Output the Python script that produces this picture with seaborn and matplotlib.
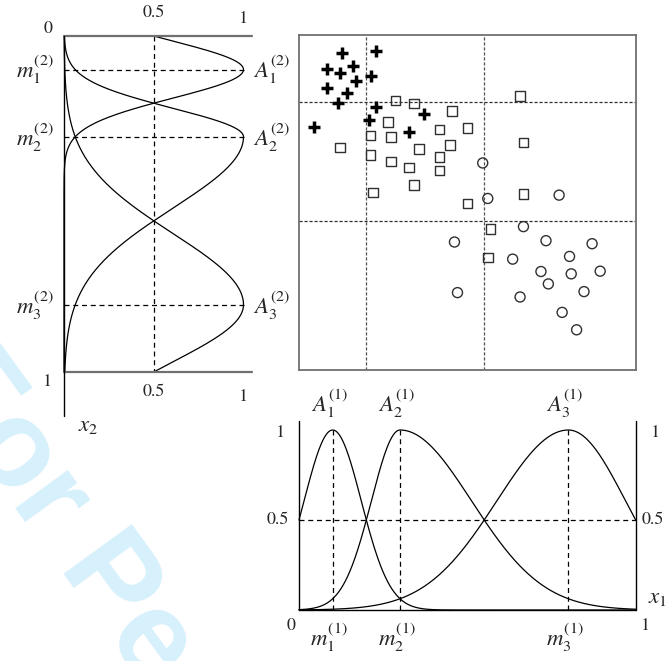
import numpy as np
import matplotlib
matplotlib.use("Agg")
import matplotlib.pyplot as plt
import seaborn as sns

sns.set_theme(style="white")
plt.rcParams["font.family"] = ["STIXGeneral", "DejaVu Serif"]
plt.rcParams["mathtext.fontset"] = "stix"

# ---- fuzzy partition of each attribute (centres and 0.5-crossing points) ----
x1_centers = [0.1, 0.3, 0.8]
x1_left_half = [0.0, 0.2, 0.55]    # where each set rises through 0.5
x1_right_half = [0.2, 0.55, 1.0]   # where each set falls through 0.5
x2_centers = [0.1, 0.3, 0.8]
x2_left_half = [0.0, 0.2, 0.55]
x2_right_half = [0.2, 0.55, 1.0]
x1_cuts = [0.2, 0.55]
x2_cuts = [0.2, 0.555]

# ---- pattern data ----
plus_x1 = [0.128, 0.228, 0.084, 0.121, 0.159, 0.213, 0.168, 0.084, 0.144,
           0.116, 0.228, 0.372, 0.208, 0.044, 0.326]
plus_x2 = [0.055, 0.047, 0.100, 0.112, 0.092, 0.122, 0.137, 0.159, 0.174,
           0.204, 0.214, 0.237, 0.254, 0.274, 0.289]
square_x1 = [0.657, 0.287, 0.341, 0.455, 0.265, 0.501, 0.418, 0.213, 0.274,
             0.667, 0.122, 0.356, 0.448, 0.213, 0.418, 0.273, 0.326, 0.418,
             0.341, 0.219, 0.667, 0.501, 0.569, 0.561]
square_x2 = [0.182, 0.196, 0.205, 0.227, 0.259, 0.277, 0.282, 0.300, 0.305,
             0.321, 0.336, 0.341, 0.329, 0.359, 0.364, 0.378, 0.396, 0.405,
             0.447, 0.470, 0.474, 0.503, 0.579, 0.664]
circle_x1 = [0.546, 0.561, 0.773, 0.667, 0.462, 0.734, 0.871, 0.804, 0.635,
             0.719, 0.809, 0.895, 0.741, 0.471, 0.657, 0.847, 0.782, 0.825]
circle_x2 = [0.382, 0.488, 0.478, 0.572, 0.618, 0.614, 0.623, 0.661, 0.669,
             0.706, 0.713, 0.705, 0.743, 0.769, 0.782, 0.766, 0.828, 0.880]

W, H = 669, 661
fig = plt.figure(figsize=(W / 100, H / 100), dpi=100)


def px_axes(x0, x1, y_top, y_bot):
    ax = fig.add_axes([x0 / W, 1 - y_bot / H, (x1 - x0) / W, (y_bot - y_top) / H])
    ax.patch.set_visible(False)
    return ax


def membership(x, c, lo, hi):
    w = np.where(x < c, c - lo, hi - c)
    return np.exp(-np.log(2) * ((x - c) / w) ** 2)


grid = np.linspace(0, 1, 600)
DASH = (0, (4, 3))
LW = 0.9
TXT = 13
LAB = 16.5

# watermark
fig.text(-78 / W, 1 - 380 / H, "For Peer Review", rotation=-54,
         rotation_mode="anchor", ha="left", va="baseline",
         fontsize=88, fontweight="bold", family="Liberation Sans",
         color="#d6f0fc", zorder=-5)

# ---------------- left panel: sets on x2 ----------------
axL = px_axes(64, 243.5, 36, 372)
axL.set_xlim(0, 1)
axL.set_ylim(1, 0)
axL.set_axis_off()
for c, lo, hi in zip(x2_centers, x2_left_half, x2_right_half):
    mu = membership(grid, c, lo, hi)
    sns.lineplot(x=mu, y=grid, sort=False, estimator=None, color="black",
                 lw=LW, ax=axL, clip_on=False)
    axL.plot([0, 1], [c, c], color="black", lw=LW, ls=DASH, clip_on=False)
axL.plot([0.5, 0.5], [0, 1], color="black", lw=LW, ls=DASH, clip_on=False)
axL.plot([0, 1.05], [0, 0], color="#707070", lw=1.6, clip_on=False)
axL.plot([0, 1.05], [1, 1], color="#707070", lw=1.6, clip_on=False)
axL.plot([0, 0], [0, 1.13], color="black", lw=1.0, clip_on=False)
for lab, c in zip(["1", "2", "3"], x2_centers):
    axL.text(-0.16, c, rf"$m_{lab}^{{(2)}}$", ha="center", va="center",
             fontsize=LAB)
    axL.text(1.16, c, rf"$A_{lab}^{{(2)}}$", ha="center", va="center",
             fontsize=LAB)
axL.text(-0.09, -0.02, "0", ha="center", va="center", fontsize=TXT)
axL.text(0.5, -0.068, "0.5", ha="center", va="center", fontsize=TXT)
axL.text(1.0, -0.05, "1", ha="center", va="center", fontsize=TXT)
axL.text(-0.09, 1.03, "1", ha="center", va="center", fontsize=TXT)
axL.text(0.5, 1.06, "0.5", ha="center", va="center", fontsize=TXT)
axL.text(1.0, 1.075, "1", ha="center", va="center", fontsize=TXT)
axL.text(0.135, 1.16, r"$x_2$", ha="center", va="center", fontsize=LAB)

# ---------------- scatter of patterns ----------------
axS = px_axes(299, 635.5, 35, 370)
axS.set_xlim(0, 1)
axS.set_ylim(1, 0)
axS.set_xticks([])
axS.set_yticks([])
for s in axS.spines.values():
    s.set_visible(True)
    s.set_color("#707070")
    s.set_linewidth(1.3)
for v in x1_cuts:
    axS.axvline(v, color="#505050", lw=0.9, ls=(0, (2.5, 1.5)))
for v in x2_cuts:
    axS.axhline(v, color="#303030", lw=0.9, ls=(0, (2.5, 1.5)))
sns.scatterplot(x=plus_x1, y=plus_x2, marker="+", s=65, color="black",
                linewidth=2.5, ax=axS, zorder=3)
sns.scatterplot(x=square_x1, y=square_x2, marker="s", s=48,
                facecolors="none", edgecolors="#303030", linewidth=1.0,
                ax=axS, zorder=3)
sns.scatterplot(x=circle_x1, y=circle_x2, marker="o", s=52,
                facecolors="none", edgecolors="#303030", linewidth=1.0,
                ax=axS, zorder=3)

# ---------------- bottom panel: sets on x1 ----------------
axB = px_axes(299, 635.7, 430, 610)
axB.set_xlim(0, 1)
axB.set_ylim(0, 1)
axB.set_axis_off()
for c, lo, hi in zip(x1_centers, x1_left_half, x1_right_half):
    mu = membership(grid, c, lo, hi)
    sns.lineplot(x=grid, y=mu, color="black", lw=LW, ax=axB, clip_on=False)
    axB.plot([c, c], [0, 1], color="black", lw=LW, ls=DASH, clip_on=False)
axB.plot([0, 1], [0.5, 0.5], color="black", lw=LW, ls=DASH, clip_on=False)
axB.plot([0, 1], [0, 0], color="black", lw=1.0, clip_on=False)
axB.plot([0, 0], [0, 1.05], color="black", lw=1.0, clip_on=False)
axB.plot([1, 1], [0, 1.05], color="black", lw=1.0, clip_on=False)
for lab, c in zip(["1", "2", "3"], x1_centers):
    axB.text(c - 0.01, 1.15, rf"$A_{lab}^{{(1)}}$", ha="center", va="center",
             fontsize=LAB)
    axB.text(c - 0.01, -0.15, rf"$m_{lab}^{{(1)}}$", ha="center", va="center",
             fontsize=LAB)
axB.text(-0.056, 0.985, "1", ha="center", va="center", fontsize=TXT)
axB.text(-0.062, 0.5, "0.5", ha="center", va="center", fontsize=TXT)
axB.text(1.06, 0.985, "1", ha="center", va="center", fontsize=TXT)
axB.text(1.05, 0.5, "0.5", ha="center", va="center", fontsize=TXT)
axB.text(-0.025, -0.09, "0", ha="center", va="center", fontsize=TXT)
axB.text(1.03, -0.09, "1", ha="center", va="center", fontsize=TXT)
axB.text(1.065, 0.07, r"$x_1$", ha="center", va="center", fontsize=LAB)

fig.savefig("out.png", dpi=100)
